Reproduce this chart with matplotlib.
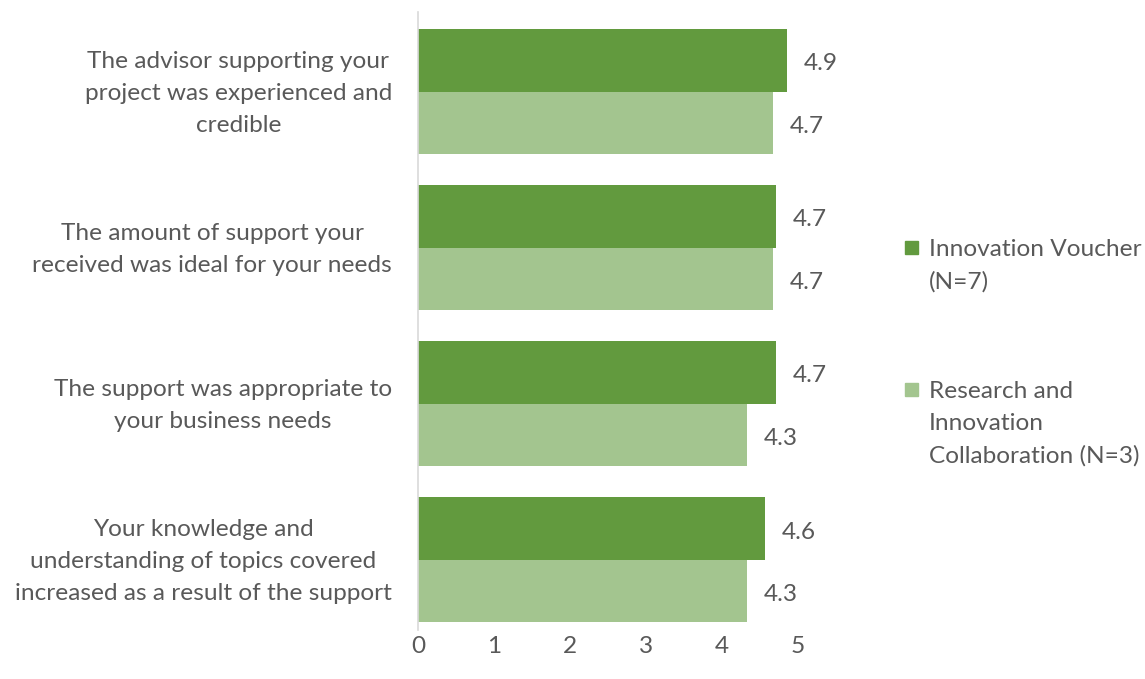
import matplotlib.pyplot as plt
from matplotlib.patches import Rectangle
from matplotlib.transforms import blended_transform_factory, offset_copy
import numpy as np

plt.rcParams['font.family'] = ['Lato', 'DejaVu Sans']

statements = [
    'The advisor supporting your\nproject was experienced and\ncredible',
    'The amount of support your\nreceived was ideal for your needs',
    'The support was appropriate to\nyour business needs',
    'Your knowledge and\nunderstanding of topics covered\nincreased as a result of the support',
]
voucher = [4.86, 4.71, 4.71, 4.57]
collab = [4.67, 4.67, 4.33, 4.33]
series_names = ['Innovation Voucher\n(N=7)', 'Research and\nInnovation\nCollaboration (N=3)']

dark = '#629a3e'
light = '#a3c58f'
txt = '#595959'
fs = 17.6

fig = plt.figure(figsize=(11.45, 6.79), dpi=100)
ax = fig.add_axes([418 / 1145, 49 / 679, 380 / 1145, 618 / 679])

y = np.arange(len(statements))
h = 0.4
ax.barh(y - h / 2, voucher, height=h, color=dark)
ax.barh(y + h / 2, collab, height=h, color=light)

for yi, v in zip(y - h / 2, voucher):
    ax.annotate(f'{v:.1f}', (v, yi), xytext=(12, -2.5), textcoords='offset points',
                va='center', ha='left', fontsize=fs, color=txt)
for yi, v in zip(y + h / 2, collab):
    ax.annotate(f'{v:.1f}', (v, yi), xytext=(12, -2.5), textcoords='offset points',
                va='center', ha='left', fontsize=fs, color=txt)

ax.set_xlim(0, 5)
ax.set_ylim(3.45, -0.51)
ax.set_xticks(range(6))
ax.set_yticks([])
ax.tick_params(axis='x', length=0, pad=4, labelsize=fs, labelcolor=txt)

# category labels, right edge a little left of the axis
lab_tr = offset_copy(blended_transform_factory(ax.transAxes, ax.transData),
                     fig=fig, x=0, y=-2, units='dots')
for yi, s in zip(y, statements):
    ax.text(-26 / 380, yi, s, transform=lab_tr, ha='right', va='center',
            multialignment='center', linespacing=1.65, fontsize=fs, color=txt)

for s in ['top', 'right', 'bottom']:
    ax.spines[s].set_visible(False)
ax.spines['left'].set_color('#d9d9d9')
ax.spines['left'].set_linewidth(1.2)

# legend drawn by hand to keep the wide spacing between entries
for name, col, ytop in zip(series_names, [dark, light], [247, 389]):
    fig.patches.append(Rectangle((905 / 1145, 1 - (ytop + 7) / 679), 13 / 1145, 13 / 679,
                                 transform=fig.transFigure, color=col))
    fig.text(929 / 1145, 1 - (ytop - 8) / 679, name, ha='left', va='top',
             fontsize=fs, color=txt, linespacing=1.65)

fig.savefig('out.png', dpi=100)
